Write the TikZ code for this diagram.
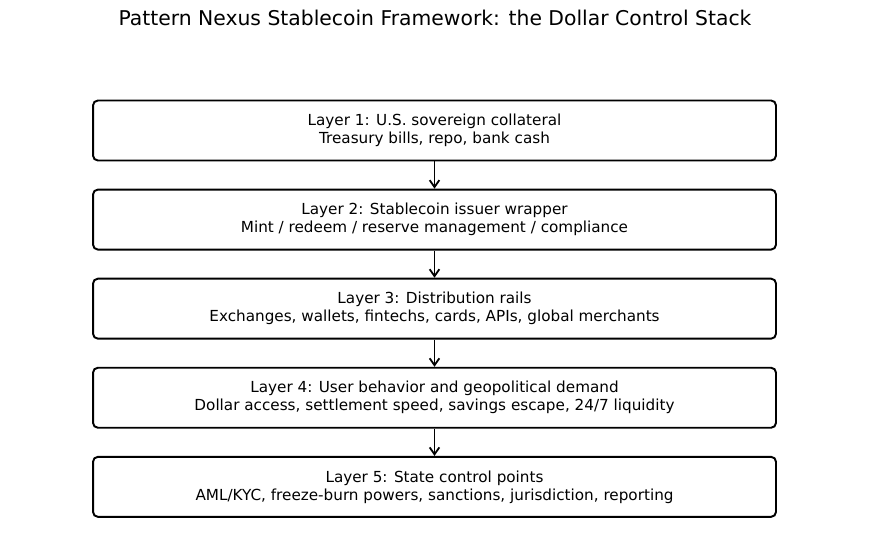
\documentclass[tikz,border=0pt]{standalone}
\usepackage{fontspec}
\setmainfont{DejaVu Sans}
\usetikzlibrary{arrows.meta,positioning}

\begin{document}
\begin{tikzpicture}[x=0.0254cm, y=-0.0254cm,
    layer/.style={draw, line width=1.4pt, rounded corners=3.5pt, minimum width=17.35cm,
        minimum height=1.524cm, align=center, font=\fontsize{11}{13}\selectfont},
    flow/.style={-{Straight Barb[length=5pt,width=7pt]}, line width=1.3pt},
    node distance=0.69cm]
    \useasboundingbox (0,0) rectangle (870,545);

    \node[font=\fontsize{14.7}{17}\selectfont] (title) at (435,18) {Pattern Nexus Stablecoin Framework: the Dollar Control Stack};

    \node[layer] (l1) at (434.5,130.5) {Layer 1: U.S. sovereign collateral\\Treasury bills, repo, bank cash};
    \node[layer, below=of l1] (l2) {Layer 2: Stablecoin issuer wrapper\\Mint / redeem / reserve management / compliance};
    \node[layer, below=of l2] (l3) {Layer 3: Distribution rails\\Exchanges, wallets, fintechs, cards, APIs, global merchants};
    \node[layer, below=of l3] (l4) {Layer 4: User behavior and geopolitical demand\\Dollar access, settlement speed, savings escape, 24/7 liquidity};
    \node[layer, below=of l4] (l5) {Layer 5: State control points\\AML/KYC, freeze-burn powers, sanctions, jurisdiction, reporting};

    \draw[flow] (l1) -- (l2);
    \draw[flow] (l2) -- (l3);
    \draw[flow] (l3) -- (l4);
    \draw[flow] (l4) -- (l5);
\end{tikzpicture}
\end{document}
